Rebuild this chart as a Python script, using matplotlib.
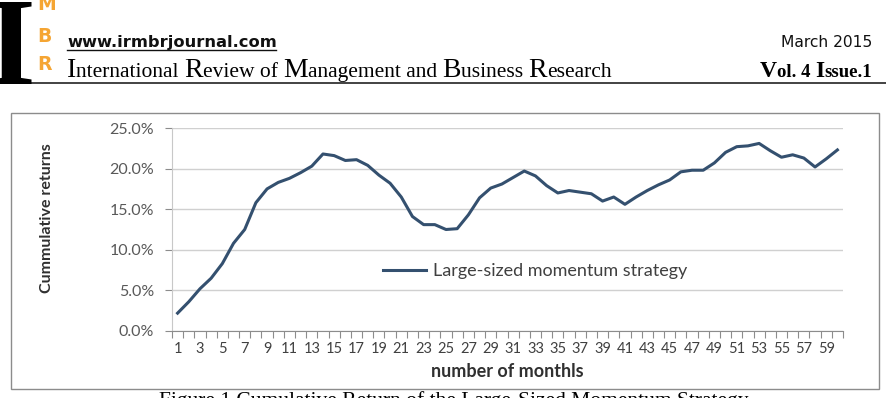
import numpy as np
import matplotlib
matplotlib.use("Agg")
import matplotlib.pyplot as plt
from matplotlib.patches import Rectangle
from matplotlib.lines import Line2D

# datos del grafico
months = list(range(1, 61))
returns = [2.2, 3.6, 5.2, 6.5, 8.3, 10.8, 12.5, 15.8, 17.5, 18.3,
           18.8, 19.5, 20.3, 21.8, 21.6, 21.0, 21.1, 20.4, 19.2, 18.2,
           16.5, 14.1, 13.1, 13.1, 12.5, 12.6, 14.3, 16.4, 17.6, 18.1,
           18.9, 19.7, 19.1, 17.9, 17.0, 17.3, 17.1, 16.9, 16.0, 16.5,
           15.6, 16.5, 17.3, 18.0, 18.6, 19.6, 19.8, 19.8, 20.7, 22.0,
           22.7, 22.8, 23.1, 22.2, 21.4, 21.7, 21.3, 20.2, 21.2, 22.3]
y_ticks = [0, 5, 10, 15, 20, 25]
series_name = "Large-sized momentum strategy"
x_title = "number of monthls"
y_title = "Cummulative returns"

W, H = 886, 398
fig = plt.figure(figsize=(W / 100, H / 100), dpi=100)
fig.patch.set_facecolor("white")


def fx(x):
    return x / W


def fy(y):
    return 1 - y / H


# cabecera de la revista
fig.text(fx(-13), fy(84), "I", fontsize=90, family="Liberation Serif",
         weight="bold", color="black", ha="left", va="baseline")
orange = "#f5a533"
for letra, yy in [("M", 5), ("B", 37), ("R", 65)]:
    fig.text(fx(37), fy(yy), letra, fontsize=13.5, family="DejaVu Sans",
             weight="bold", color=orange, ha="left", va="center")

fig.text(fx(67), fy(47), "www.irmbrjournal.com", fontsize=11.7,
         family="DejaVu Sans", weight="bold", color="#111111",
         ha="left", va="baseline")
fig.add_artist(Line2D([fx(67), fx(276)], [fy(50), fy(50)], color="#111111", lw=1))
fig.text(fx(872), fy(47), "March 2015", fontsize=11.2, family="DejaVu Sans",
         color="#111111", ha="right", va="baseline")

fig.canvas.draw()
renderer = fig.canvas.get_renderer()

piezas = [("I", 20), ("nternational ", 15.5), ("R", 20), ("eview of ", 15.5),
          ("M", 20), ("anagement and ", 15.5), ("B", 20), ("usiness ", 15.5),
          ("R", 20), ("esearch", 15.5)]
x0 = fx(67)
for txt, size in piezas:
    t = fig.text(x0, fy(77), txt, fontsize=size, family="Liberation Serif",
                 color="black", ha="left", va="baseline")
    bb = t.get_window_extent(renderer)
    x0 = bb.x1 / W

piezas2 = [("V", 17), ("ol. 4 ", 13.5), ("I", 17), ("ssue.1", 13.5)]
anchos = []
for txt, size in piezas2:
    t = fig.text(0, 0, txt, fontsize=size, family="Liberation Serif", weight="bold")
    anchos.append(t.get_window_extent(renderer).width)
    t.remove()
x0 = (872 - sum(anchos)) / W
for (txt, size), w in zip(piezas2, anchos):
    fig.text(x0, fy(77), txt, fontsize=size, family="Liberation Serif",
             weight="bold", color="black", ha="left", va="baseline")
    x0 += w / W

fig.add_artist(Line2D([fx(30), 1], [fy(83), fy(83)], color="#222222", lw=1.2))

# marco del grafico
fig.add_artist(Rectangle((fx(11), fy(389)), fx(879 - 11), (389 - 113) / H,
                         transform=fig.transFigure, fill=False,
                         edgecolor="#8c8c8c", lw=1))

# ejes
ax = fig.add_axes([fx(172), fy(331), fx(843 - 172), (331 - 128) / H])
ax.plot(months, returns, color="#34506f", lw=2.2, label=series_name)
ax.set_xlim(0.5, 60.5)
ax.set_ylim(0, 25)
ax.set_yticks(y_ticks)
ax.set_yticklabels(["%.1f%%" % v for v in y_ticks])
ax.yaxis.grid(True, color="#d0d0d0", lw=1)
ax.set_axisbelow(True)

ax.set_xticks(np.arange(0.5, 61, 1))
ax.set_xticklabels([])
ax.set_xticks(months[::2], minor=True)
ax.set_xticklabels([str(m) for m in months[::2]], minor=True)
ax.tick_params(axis="x", which="major", length=5, color="#8c8c8c", direction="out")
ax.tick_params(axis="x", which="minor", length=0, pad=8, labelsize=10.5,
               labelcolor="#404040")
ax.tick_params(axis="y", length=5, color="#8c8c8c", labelsize=11.5,
               labelcolor="#595959", pad=8)
for lab in ax.get_xticklabels(minor=True) + ax.get_yticklabels():
    lab.set_family("Lato")

for s in ["top", "right"]:
    ax.spines[s].set_visible(False)
ax.spines["left"].set_color("#c8c8c8")
ax.spines["bottom"].set_color("#8c8c8c")

ax.set_xlabel(x_title, fontsize=13, family="Lato", weight="bold",
              color="#303030", labelpad=5)
fig.text(fx(47), fy(218), y_title, rotation=90, fontsize=11.5, family="Lato",
         weight="bold", color="#303030", ha="center", va="center")

leg = ax.legend(loc="center left", bbox_to_anchor=(0.29, 0.296), frameon=False,
                prop={"family": "Lato", "size": 13}, handlelength=2.4,
                handletextpad=0.4, labelcolor="#404040")

# pie de figura (cortado en el borde inferior)
fig.text(fx(454), fy(406), "Figure 1 Cumulative Return of the Large-Sized Momentum Strategy",
         fontsize=15.5, family="Liberation Serif", color="black",
         ha="center", va="baseline")

fig.savefig("out.png", dpi=100)
